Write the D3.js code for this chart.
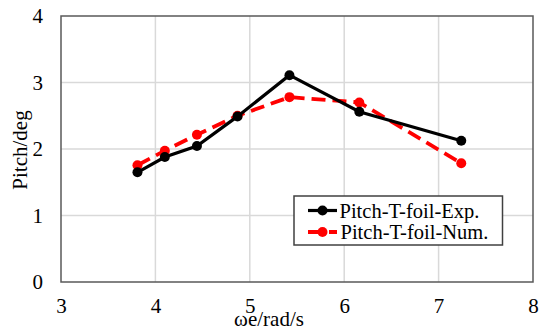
<!DOCTYPE html>
<html>
<head>
<meta charset="utf-8">
<script src="https://cdn.jsdelivr.net/npm/d3@7"></script>
<style>
  html, body { margin: 0; padding: 0; background: #fff; }
  svg { display: block; }
  svg text { font-family: "Liberation Serif", "Times New Roman", serif; }
</style>
</head>
<body>
<svg id="chart" width="550" height="336"></svg>
<script>
// data
const omega = [3.81, 4.10, 4.44, 4.87, 5.42, 6.16, 7.24];
const pitchExp = [1.65, 1.88, 2.045, 2.49, 3.11, 2.56, 2.125];
const pitchNum = [1.755, 1.975, 2.215, 2.50, 2.78, 2.70, 1.785];
const xTicks = [3, 4, 5, 6, 7, 8];
const yTicks = [0, 1, 2, 3, 4];
const seriesNames = ["Pitch-T-foil-Exp.", "Pitch-T-foil-Num."];

const cfg = {
  left: 61, right: 533, top: 16, bottom: 282,
  fontSize: 21,
  gridColor: "#d9d9d9",
  axisColor: "#595959",
  expColor: "#000000",
  numColor: "#ff0000",
  markerR: 5,
};

const svg = d3.select("#chart");

const x = d3.scaleLinear().domain([3, 8]).range([cfg.left, cfg.right]);
const y = d3.scaleLinear().domain([0, 4]).range([cfg.bottom, cfg.top]);

// grid
svg.append("g")
  .selectAll("line")
  .data(xTicks.slice(1, -1))
  .join("line")
  .attr("x1", (d) => x(d)).attr("x2", (d) => x(d))
  .attr("y1", cfg.top).attr("y2", cfg.bottom)
  .attr("stroke", cfg.gridColor).attr("stroke-width", 1.5);
svg.append("g")
  .selectAll("line")
  .data(yTicks.slice(1, -1))
  .join("line")
  .attr("x1", cfg.left).attr("x2", cfg.right)
  .attr("y1", (d) => y(d)).attr("y2", (d) => y(d))
  .attr("stroke", cfg.gridColor).attr("stroke-width", 1.5);

// frame
svg.append("rect")
  .attr("x", cfg.left).attr("y", cfg.top)
  .attr("width", cfg.right - cfg.left).attr("height", cfg.bottom - cfg.top)
  .attr("fill", "none")
  .attr("stroke", cfg.axisColor).attr("stroke-width", 1.5);

// axes (labels only, no tick marks)
const xAxis = svg.append("g")
  .attr("transform", `translate(0, ${cfg.bottom})`)
  .call(d3.axisBottom(x).tickValues(xTicks).tickFormat(d3.format("d")).tickSize(0));
const yAxis = svg.append("g")
  .attr("transform", `translate(${cfg.left}, 0)`)
  .call(d3.axisLeft(y).tickValues(yTicks).tickFormat(d3.format("d")).tickSize(0).tickPadding(18));
[xAxis, yAxis].forEach((g) => {
  g.attr("font-family", null);
  g.select(".domain").remove();
  g.selectAll("text")
    .attr("font-size", cfg.fontSize)
    .attr("fill", "#000");
});
xAxis.selectAll("text").attr("dy", null).attr("y", 31);

// axis titles
svg.append("text")
  .attr("x", 269).attr("y", 326)
  .attr("text-anchor", "middle")
  .attr("font-size", cfg.fontSize)
  .text("ωe/rad/s");
svg.append("text")
  .attr("transform", `translate(27, 150) rotate(-90)`)
  .attr("text-anchor", "middle")
  .attr("font-size", cfg.fontSize)
  .text("Pitch/deg");

// series
const line = d3.line().x((d) => x(d[0])).y((d) => y(d[1]));
const expData = d3.zip(omega, pitchExp);
const numData = d3.zip(omega, pitchNum);

svg.append("path")
  .datum(numData)
  .attr("d", line)
  .attr("fill", "none")
  .attr("stroke", cfg.numColor).attr("stroke-width", 3.8)
  .attr("stroke-dasharray", "14,7");
svg.append("g")
  .selectAll("circle")
  .data(numData)
  .join("circle")
  .attr("cx", (d) => x(d[0])).attr("cy", (d) => y(d[1]))
  .attr("r", cfg.markerR).attr("fill", cfg.numColor);

svg.append("path")
  .datum(expData)
  .attr("d", line)
  .attr("fill", "none")
  .attr("stroke", cfg.expColor).attr("stroke-width", 3.2);
svg.append("g")
  .selectAll("circle")
  .data(expData)
  .join("circle")
  .attr("cx", (d) => x(d[0])).attr("cy", (d) => y(d[1]))
  .attr("r", cfg.markerR).attr("fill", cfg.expColor);

// legend
const legend = svg.append("g");
legend.append("rect")
  .attr("x", 294).attr("y", 196)
  .attr("width", 208.5).attr("height", 49)
  .attr("fill", "#fff")
  .attr("stroke", "#404040").attr("stroke-width", 1.5);
const legendItems = [
  { name: seriesNames[0], color: cfg.expColor, dash: null, w: 3.2 },
  { name: seriesNames[1], color: cfg.numColor, dash: "14,7", w: 3.8 },
];
legendItems.forEach((item, i) => {
  const cy = 210.5 + i * 21.5;
  legend.append("line")
    .attr("x1", 308).attr("x2", 337)
    .attr("y1", cy).attr("y2", cy)
    .attr("stroke", item.color).attr("stroke-width", item.w)
    .attr("stroke-dasharray", item.dash);
  legend.append("circle")
    .attr("cx", 322.5).attr("cy", cy).attr("r", cfg.markerR)
    .attr("fill", item.color);
  legend.append("text")
    .attr("x", 339.5 + i * 1).attr("y", cy)
    .attr("dy", "0.35em")
    .attr("font-size", 20.5)
    .text(item.name);
});
</script>
</body>
</html>
